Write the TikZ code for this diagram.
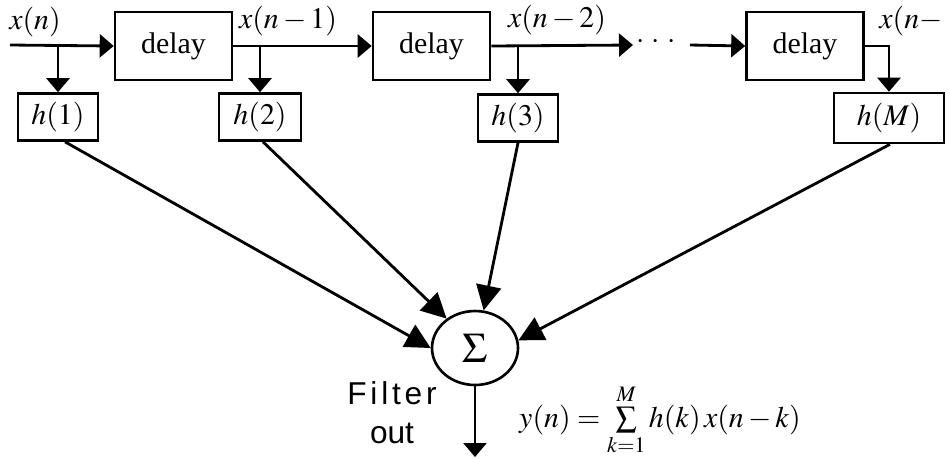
\documentclass[tikz,border=0pt]{standalone}
\usepackage{mathptmx}
\usepackage{fontspec}
\setmainfont{Liberation Serif}
\setsansfont{Liberation Sans}
\usetikzlibrary{arrows.meta,shapes.geometric}
\tikzset{
  wire/.style={line width=1.6pt},
  arr/.style={wire,-{Triangle[length=0.28cm,width=0.46cm]}},
  darr/.style={wire,-{Triangle[length=0.5cm,width=0.5cm]}},
  blk/.style={draw,line width=1.5pt,inner sep=0pt,font=\fontsize{17}{20}\selectfont},
  lbl/.style={inner sep=0pt,font=\fontsize{17}{20}\selectfont}
}
\begin{document}
\begin{tikzpicture}[x=0.02cm,y=-0.02cm]
\useasboundingbox (0,0) rectangle (950,458);
% delay blocks
\node[blk,minimum width=2.34cm,minimum height=1.36cm] (d1) at (173.5,46) {delay};
\node[blk,minimum width=2.34cm,minimum height=1.36cm] (d2) at (431.5,46) {delay};
\node[blk,minimum width=2.34cm,minimum height=1.36cm] (d3) at (805,46) {delay};
% coefficient blocks
\node[blk,minimum width=1.6cm,minimum height=0.94cm] (h1) at (58,117) {$h(1)$};
\node[blk,minimum width=1.64cm,minimum height=0.94cm] (h2) at (260,117) {$h(2)$};
\node[blk,minimum width=1.6cm,minimum height=0.94cm] (h3) at (518,118) {$h(3)$};
\node[blk,minimum width=2.2cm,minimum height=1.0cm] (hM) at (889,118) {$h(M)$};
% summer
\node[draw,ellipse,line width=1.5pt,inner sep=0pt,minimum width=1.72cm,minimum height=1.48cm,font=\fontsize{24}{28}\selectfont] (sum) at (475,348) {$\Sigma$};
% coordinates
\coordinate (in) at (10,45);
\coordinate (b1) at (58,45);
\coordinate (b2) at (260,45);
\coordinate (b3) at (518,45);
\coordinate (e2) at (633,45);
\coordinate (s3) at (690,45);
\coordinate (out) at (475,457);
% labels
\node[lbl] (lx0) at (35,22) {$x(n)$};
\node[lbl] (lx1) at (288,21) {$x(n-1)$};
\node[lbl] (lx2) at (557,20) {$x(n-2)$};
\node[lbl,anchor=west] (lx3) at (879,21) {$x(n-$};
\node[lbl] (dots) at (656,42) {$\cdot\,\cdot\,\cdot$};
% main line
\draw[arr] (in) -- (d1.west);
\draw[arr] (d1.east) -- (d2.west);
\draw[arr] (d2.east) -- (e2);
\draw[arr] (s3) -- (d3.west);
\draw[arr] (d3.east) -| (hM.north);
% taps
\draw[arr] (b1) -- (h1.north);
\draw[arr] (b2) -- (h2.north);
\draw[arr] (b3) -- (h3.north);
% to summer
\draw[darr] ([xshift=0.14cm]h1.south) -- (sum.180);
\draw[darr] ([xshift=0.06cm]h2.south) -- (sum.134);
\draw[darr] (h3.south) -- (sum.77);
\draw[darr] ([xshift=0.02cm]hM.south) -- (sum.10);
\draw[arr] (sum.south) -- (out);
% text
\node[inner sep=0pt,align=center,font=\sffamily\fontsize{18}{22}\selectfont] (flt) at (392,413) {\addfontfeature{LetterSpace=12}Filter\\out};
\node[lbl] (eq) at (660,420) {$y(n)=\sum\limits_{k=1}^{M}h(k)\,x(n-k)$};
\end{tikzpicture}
\end{document}
